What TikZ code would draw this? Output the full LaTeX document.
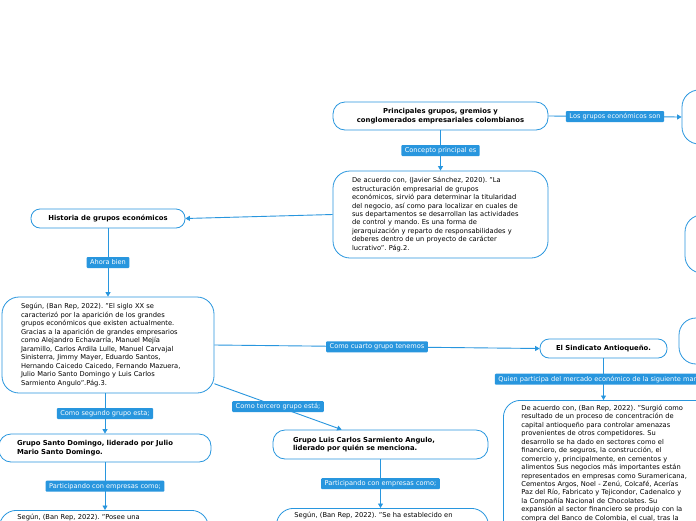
\documentclass[tikz,border=0pt]{standalone}
\usepackage{fontspec}
\setmainfont{DejaVu Sans}
\usetikzlibrary{arrows.meta,calc}
\definecolor{mmblue}{RGB}{40,150,222}
\frenchspacing
\tikzset{
  conn/.style={draw=mmblue,line width=0.9pt,-{Triangle[width=5pt,length=4.5pt]}},
  topic/.style={draw=mmblue,line width=0.8pt,fill=white,rounded corners=9pt,inner sep=0pt,
    font=\bfseries\fontsize{6.85}{8.6}\selectfont},
  bigbox/.style={draw=mmblue,line width=0.8pt,fill=white,rounded corners=17pt,align=left,
    inner ysep=0pt,font=\fontsize{6.7}{8.45}\selectfont},
  lab/.style={fill=mmblue,text=white,rounded corners=1pt,inner xsep=3.5pt,inner ysep=0pt,
    minimum height=11pt,font=\fontsize{6.6}{7}\selectfont},
}
\begin{document}
\frenchspacing
\begin{tikzpicture}[x=1pt,y=-1pt]
\useasboundingbox (0,0) rectangle (696,520);
\clip (0,0) rectangle (696,520);
\fill[white] (0,0) rectangle (696,520);

% right partial nodes
\node[topic,rounded corners=17pt,minimum width=120pt,minimum height=54pt] (R1) at (742,117) {};
\node[topic,rounded corners=17pt,minimum width=120pt,minimum height=58pt] (R2) at (745,244) {};
\node[topic,rounded corners=17pt,minimum width=120pt,minimum height=46pt] (R3) at (739,341) {};

% main topic
\node[topic,rounded corners=12pt,align=center,minimum width=215pt,minimum height=28pt] (P) at (440.5,116)
  {Principales grupos, gremios y\\conglomerados empresariales colombianos};

% Javier box
\node[bigbox,text width=177pt,inner xsep=19pt,minimum height=87pt] (J) at (440.5,214.5)
  {De acuerdo con, (Javier Sánchez, 2020). "La\\
estructuración empresarial de grupos\\
económicos, sirvió para determinar la titularidad\\
del negocio, así como para localizar en cuales de\\
sus departamentos se desarrollan las actividades\\
de control y mando. Es una forma de\\
jerarquización y reparto de responsabilidades y\\
deberes dentro de un proyecto de carácter\\
lucrativo". Pág.2.};

% Historia
\node[topic,minimum width=154pt,minimum height=19pt] (H) at (108,218.5) {Historia de grupos económicos};

% Segun box
\node[bigbox,text width=174pt,inner xsep=19pt,minimum height=96pt] (S) at (108,345)
  {Según, (Ban Rep, 2022). "El siglo XX se\\
caracterizó por la aparición de los grandes\\
grupos económicos que existen actualmente.\\
Gracias a la aparición de grandes empresarios\\
como Alejandro Echavarría, Manuel Mejía\\
Jaramillo, Carlos Ardila Lulle, Manuel Carvajal\\
Sinisterra, Jimmy Mayer, Eduardo Santos,\\
Hernando Caicedo Caicedo, Fernando Mazuera,\\
Julio Mario Santo Domingo y Luis Carlos\\
Sarmiento Angulo".Pág.3.};

% El Sindicato
\node[topic,minimum width=127pt,minimum height=19pt] (E) at (603.5,348.5) {El Sindicato Antioqueño.};

% Sindicato text box (cut off)
\node[bigbox,anchor=north west,text width=184pt,inner xsep=18pt,inner ysep=4pt,
  text height=6pt,text depth=150pt] (A) at (503,400)
  {De acuerdo con, (Ban Rep, 2022). "Surgió como\\
resultado de un proceso de concentración de\\
capital antioqueño para controlar amenazas\\
provenientes de otros competidores. Su\\
desarrollo se ha dado en sectores como el\\
financiero, de seguros, la construcción, el\\
comercio y, principalmente, en cementos y\\
alimentos Sus negocios más importantes están\\
representados en empresas como Suramericana,\\
Cementos Argos, Noel - Zenú, Colcafé, Acerías\\
Paz del Río, Fabricato y Tejicondor, Cadenalco y\\
la Compañía Nacional de Chocolates. Su\\
expansión al sector financiero se produjo con la\\
compra del Banco de Colombia, el cual, tras la};

% Grupo Luis Carlos
\node[topic,rounded corners=12pt,align=left,text width=175pt,inner xsep=20pt,minimum height=29pt] (L) at (380.5,444.5)
  {Grupo Luis Carlos Sarmiento Angulo,\\liderado por quién se menciona.};

% bottom middle box
\node[bigbox,anchor=north west,text width=176pt,inner xsep=18pt,inner ysep=4pt,
  text height=5pt,text depth=120pt] (LB) at (276,508)
  {Según, (Ban Rep, 2022). "Se ha establecido en};

% Grupo Santo Domingo
\node[topic,rounded corners=12pt,align=left,text width=176pt,inner xsep=18pt,minimum height=28pt] (G) at (105,448)
  {Grupo Santo Domingo, liderado por Julio\\Mario Santo Domingo.};

% bottom left box
\node[bigbox,anchor=north west,text width=173pt,inner xsep=18pt,inner ysep=4pt,
  text height=5pt,text depth=120pt] (GB) at (-1,510)
  {Según, (Ban Rep, 2022). "Posee una};

% connectors
\draw[conn] (P.east) -- node[lab] {Los grupos económicos son} (R1.west);
\draw[conn] (P.south) -- node[lab] {Concepto principal es} (J.north);
\draw[conn] (J.west) -- (H.east);
\draw[conn] (H.south) -- node[lab] {Ahora bien} (S.north);
\draw[conn] (S.east) -- node[lab] {Como cuarto grupo tenemos} (E.west);
\draw[conn] (E.south) -- node[lab] {Quien participa del mercado económico de la siguiente manera} (E.south |- A.north);
\draw[conn] (S.-20) -- node[lab] {Como tercero grupo está;} ($(L.north west)!0.32!(L.north east)$);
\draw[conn] (S.south -| G.north) -- node[lab] {Como segundo grupo esta;} (G.north);
\draw[conn] (G.south) -- node[lab] {Participando con empresas como;} (G.south |- GB.north);
\draw[conn] (L.south) -- node[lab] {Participando con empresas como;} (L.south |- LB.north);
\end{tikzpicture}
\end{document}
